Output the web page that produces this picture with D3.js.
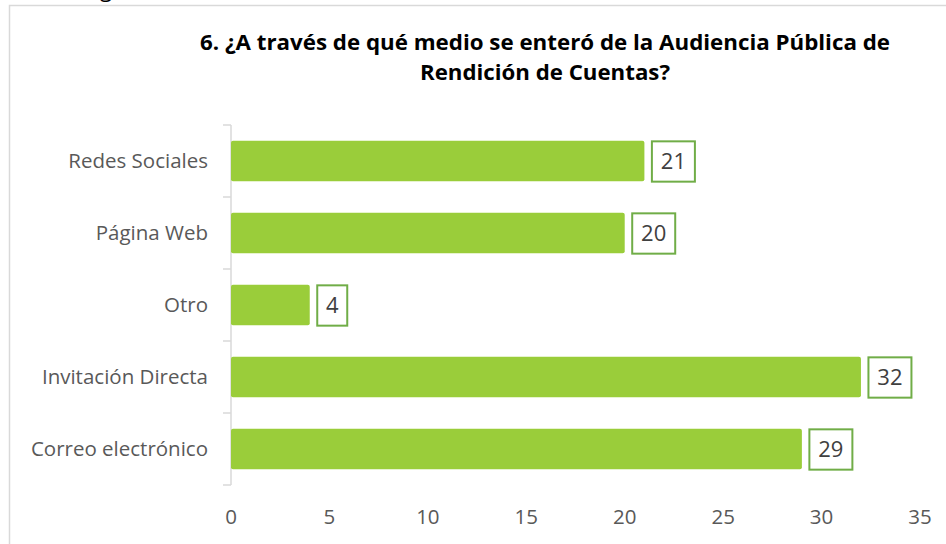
<!DOCTYPE html>
<html>
<head>
<meta charset="utf-8">
<title>Medio</title>
<script src="https://cdn.jsdelivr.net/npm/d3@7"></script>
<style>
  body { margin: 0; background: #fff; }
  svg { display: block; }
</style>
</head>
<body>
<div id="chart"></div>
<script>
// data
var categories = ["Redes Sociales", "Página Web", "Otro", "Invitación Directa", "Correo electrónico"];
var values = [21, 20, 4, 32, 29];
var xTicks = [0, 5, 10, 15, 20, 25, 30, 35];
var titleLines = ["6. ¿A través de qué medio se enteró de la Audiencia Pública de", "Rendición de Cuentas?"];

var width = 946, height = 544;
var font = "'Open Sans', 'DejaVu Sans', sans-serif";

var svg = d3.select("#chart")
  .append("svg")
  .attr("width", width)
  .attr("height", height)
  .style("font-family", font);

// stray descender from the text above the frame
svg.append("text")
  .attr("x", 100)
  .attr("y", -3)
  .attr("font-size", 22)
  .attr("fill", "#000")
  .text("g");

// chart frame
svg.append("rect")
  .attr("x", 9.5)
  .attr("y", 5.5)
  .attr("width", 960)
  .attr("height", 560)
  .attr("fill", "#fff")
  .attr("stroke", "#d9d9d9")
  .attr("stroke-width", 1.5);

// title
svg.append("g")
  .selectAll("text")
  .data(titleLines)
  .join("text")
    .attr("x", 545)
    .attr("y", (d, i) => 50 + i * 30)
    .attr("text-anchor", "middle")
    .attr("font-size", 22)
    .attr("font-weight", "bold")
    .attr("fill", "#000")
    .attr("textLength", (d, i) => i == 0 ? 690 : 250)
    .attr("lengthAdjust", "spacingAndGlyphs")
    .text(d => d);

var x = d3.scaleLinear()
  .domain([0, 35])
  .range([231, 920]);

var y = d3.scaleBand()
  .domain(categories)
  .range([125, 485])
  .paddingInner(0.44)
  .paddingOuter(0.22);

// y axis line and ticks at band boundaries
var yAxis = svg.append("g");
yAxis.append("line")
  .attr("x1", x(0)).attr("x2", x(0))
  .attr("y1", 125).attr("y2", 485)
  .attr("stroke", "#d9d9d9")
  .attr("stroke-width", 1.5);

var step = (485 - 125) / categories.length;
yAxis.selectAll("line.tick")
  .data(d3.range(categories.length + 1))
  .join("line")
    .attr("class", "tick")
    .attr("x1", x(0) - 8).attr("x2", x(0))
    .attr("y1", d => 125 + d * step)
    .attr("y2", d => 125 + d * step)
    .attr("stroke", "#d9d9d9")
    .attr("stroke-width", 1.5);

yAxis.selectAll("text")
  .data(categories)
  .join("text")
    .attr("x", 208)
    .attr("y", d => y(d) + y.bandwidth() / 2)
    .attr("dy", "0.35em")
    .attr("text-anchor", "end")
    .attr("font-size", 20.5)
    .attr("fill", "#595959")
    .text(d => d);

// x tick labels
svg.append("g")
  .selectAll("text")
  .data(xTicks)
  .join("text")
    .attr("x", d => x(d))
    .attr("y", 517)
    .attr("dy", "0.35em")
    .attr("text-anchor", "middle")
    .attr("font-size", 20.5)
    .attr("fill", "#595959")
    .text(d => d);

// bars
var rows = categories.map((c, i) => ({ name: c, value: values[i] }));

svg.append("g")
  .selectAll("rect")
  .data(rows)
  .join("rect")
    .attr("x", x(0))
    .attr("y", d => y(d.name))
    .attr("width", d => x(d.value) - x(0))
    .attr("height", y.bandwidth())
    .attr("rx", 2)
    .attr("fill", "#9acd3a");

// value labels in boxes
var lab = svg.append("g")
  .selectAll("g")
  .data(rows)
  .join("g")
    .attr("transform", d => `translate(${x(d.value) + 7},${y(d.name)})`);

lab.append("rect")
  .attr("x", 0.5)
  .attr("y", 0.5)
  .attr("width", d => String(d.value).length > 1 ? 43 : 30)
  .attr("height", y.bandwidth())
  .attr("fill", "#fff")
  .attr("stroke", "#70ad47")
  .attr("stroke-width", 2);

lab.append("text")
  .attr("x", d => (String(d.value).length > 1 ? 43 : 30) / 2 + 0.5)
  .attr("y", y.bandwidth() / 2)
  .attr("dy", "0.35em")
  .attr("text-anchor", "middle")
  .attr("font-size", 22)
  .attr("fill", "#404040")
  .text(d => d.value);
</script>
</body>
</html>
